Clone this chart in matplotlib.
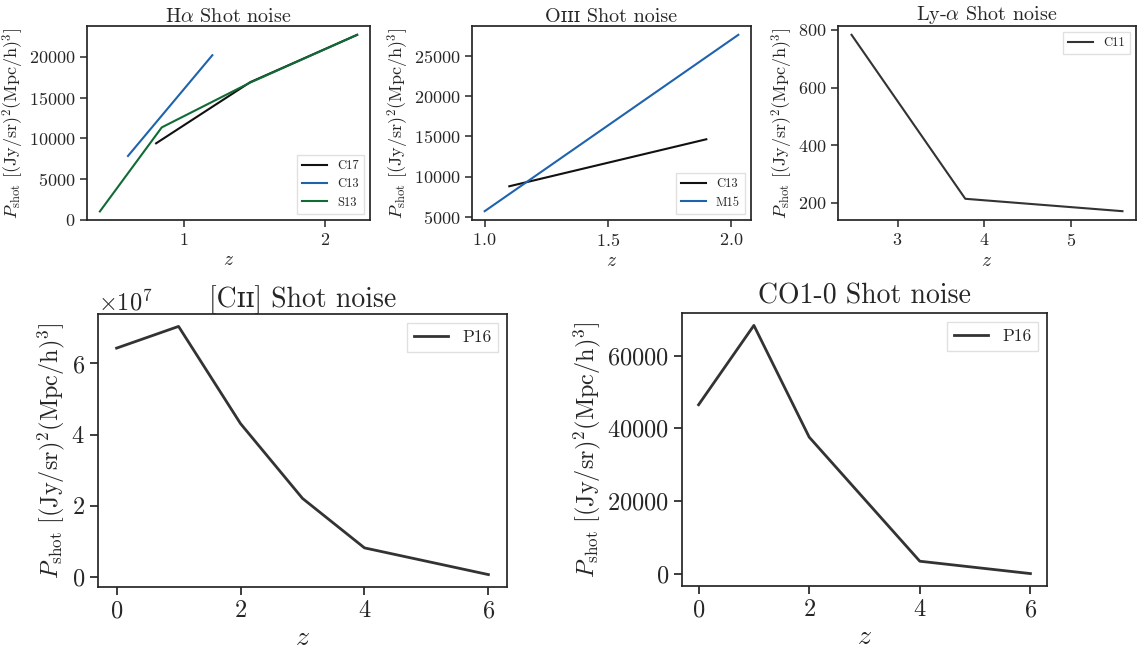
import numpy as np
import matplotlib
matplotlib.use("Agg")
import matplotlib.pyplot as plt

# Computer-Modern-ish look without LaTeX
plt.rcParams["font.family"] = ["cmr10", "DejaVu Serif"]
plt.rcParams["mathtext.fontset"] = "cm"
plt.rcParams["axes.formatter.use_mathtext"] = True
plt.rcParams["axes.unicode_minus"] = False
plt.rcParams["text.color"] = ".15"
plt.rcParams["axes.labelcolor"] = ".15"
plt.rcParams["axes.edgecolor"] = ".15"
plt.rcParams["xtick.color"] = ".15"
plt.rcParams["ytick.color"] = ".15"
plt.rcParams["axes.linewidth"] = 1.25

# H-alpha
ha_z_c17 = [0.80, 1.47, 2.23]
ha_p_c17 = [9400, 16900, 22700]
ha_z_c13 = [0.60, 1.20]
ha_p_c13 = [7850, 20200]
ha_z_s13 = [0.40, 0.84, 1.47, 2.23]
ha_p_s13 = [1050, 11350, 16850, 22700]

# OIII
o3_z_c13 = [1.10, 1.90]
o3_p_c13 = [8800, 14650]
o3_z_m15 = [1.00, 2.03]
o3_p_m15 = [5700, 27650]

# Ly-alpha
lya_z_c11 = [2.47, 3.78, 5.59]
lya_p_c11 = [783, 214, 171]

# [CII] and CO
cii_z_p16 = [0, 1, 2, 3, 4, 6]
cii_p_p16 = [6.43e7, 7.04e7, 4.31e7, 2.21e7, 0.82e7, 0.07e7]
co_z_p16 = [0, 1, 2, 4, 6]
co_p_p16 = [46500, 68300, 37600, 3500, 100]

ylab = r"$P_{\rm shot}\ [({\rm Jy/sr})^2({\rm Mpc/h})^3]$"
W, H = 1138, 650


def box(l, t, r, b):
    return [l / W, (H - b) / H, (r - l) / W, (b - t) / H]


fig = plt.figure(figsize=(11.38, 6.5), dpi=100)

ax1 = fig.add_axes(box(87, 26, 370, 220))
ax1.plot(ha_z_c17, ha_p_c17, color="#111111", lw=1.5, label="C17")
ax1.plot(ha_z_c13, ha_p_c13, color="#1f63ad", lw=1.5, label="C13")
ax1.plot(ha_z_s13, ha_p_s13, color="#106b35", lw=1.5, label="S13")
ax1.set_ylim(bottom=0)
ax1.set_xticks([1, 2])
ax1.set_title(r"H$\alpha$ Shot noise", fontsize=14.5, pad=3)

ax2 = fig.add_axes(box(472, 26, 751, 220))
ax2.plot(o3_z_c13, o3_p_c13, color="#111111", lw=1.5, label="C13")
ax2.plot(o3_z_m15, o3_p_m15, color="#1f63ad", lw=1.5, label="M15")
ax2.set_xticks([1.0, 1.5, 2.0])
ax2.set_title("Oɪɪɪ Shot noise", fontsize=14.5, pad=3)

ax3 = fig.add_axes(box(838, 26, 1136, 220))
ax3.plot(lya_z_c11, lya_p_c11, color="#333333", lw=1.5, label="C11")
ax3.set_title(r"Ly-$\alpha$ Shot noise", fontsize=14.5, pad=3)

for ax, loc in [(ax1, "lower right"), (ax2, "lower right"), (ax3, "upper right")]:
    ax.set_xlabel(r"$z$", fontsize=14, labelpad=2)
    ax.set_ylabel(ylab, fontsize=13, labelpad=2)
    ax.tick_params(labelsize=13, length=5, width=1.1)
    leg = ax.legend(loc=loc, fontsize=9, fancybox=False, edgecolor="0.85")

ax4 = fig.add_axes(box(98, 314, 507, 587))
ax4.plot(cii_z_p16, cii_p_p16, color="#333333", lw=2, label="P16")
ax4.set_title("[Cɪɪ] Shot noise", fontsize=20, pad=5)
ax4.set_xticks([0, 2, 4, 6])

ax5 = fig.add_axes(box(682, 313, 1047, 586))
ax5.plot(co_z_p16, co_p_p16, color="#333333", lw=2, label="P16")
ax5.set_title("CO1-0 Shot noise", fontsize=20, pad=7)
ax5.set_xticks([0, 2, 4, 6])

for ax in [ax4, ax5]:
    ax.set_xlabel(r"$z$", fontsize=20, labelpad=2)
    ax.set_ylabel(ylab, fontsize=17.5, labelpad=3)
    ax.tick_params(labelsize=17.5, length=6, width=1.25)
    ax.yaxis.get_offset_text().set_fontsize(17.5)
    ax.legend(loc="upper right", fontsize=12.5, fancybox=False, edgecolor="0.85")

fig.savefig("out.png", dpi=100)
